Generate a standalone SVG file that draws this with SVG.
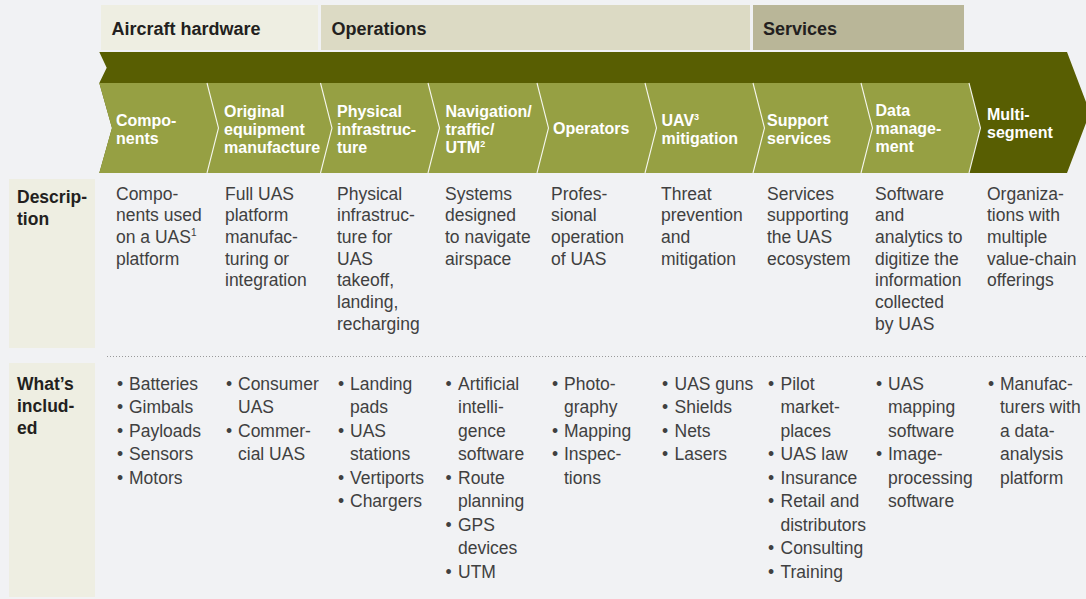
<svg xmlns="http://www.w3.org/2000/svg" width="1086" height="599" viewBox="0 0 1086 599">
<style>
text{font-family:"Liberation Sans",Arial,Helvetica,sans-serif}
.cat{font-weight:bold;font-size:18px;fill:#231f20}
.chev{font-weight:bold;font-size:16px;fill:#ffffff}
.lab{font-weight:bold;font-size:17.5px;fill:#231f20}
.txt{font-size:17.5px;fill:#404040}
.sup{font-size:10px}
.div{fill:none;stroke:#ffffff;stroke-width:1.1;stroke-opacity:0.9}
</style>
<rect x="0" y="0" width="1086" height="599" fill="#f1f2f4"/>

<g id="categories">
  <rect x="101" y="5" width="217" height="45" fill="#eeeee2"/>
  <text class="cat" x="111.5" y="35">Aircraft hardware</text>
  <rect x="321" y="5" width="429" height="45" fill="#dcdac4"/>
  <text class="cat" x="331.5" y="35">Operations</text>
  <rect x="753" y="5" width="211" height="45" fill="#b9b698"/>
  <text class="cat" x="763" y="35">Services</text>
</g>

<g id="value-chain-band">
  <polygon points="99.3,52 1067,52 1090,112.5 1067,173 99.3,173 112,128 99.3,83 106.7,67.7" fill="#585e02"/>
  <polygon points="99.3,83 969,83 980.5,128 969,173 99.3,173 112,128" fill="#96a043"/>
</g>

<g id="connectors">
  <polyline class="div" points="207,83 218.5,128 207,173"/>
  <polyline class="div" points="320.5,83 332,128 320.5,173"/>
  <polyline class="div" points="428,83 439.5,128 428,173"/>
  <polyline class="div" points="537,83 548.5,128 537,173"/>
  <polyline class="div" points="645,83 656.5,128 645,173"/>
  <polyline class="div" points="753,83 764.5,128 753,173"/>
  <polyline class="div" points="861,83 872.5,128 861,173"/>
  <polyline class="div" points="969,83 980.5,128 969,173"/>
</g>

<g id="row-labels">
  <rect x="9" y="179" width="86" height="169" fill="#eeeee2"/>
  <text class="lab"><tspan x="17" y="203">Descrip-</tspan><tspan x="17" y="225">tion</tspan></text>
  <rect x="9" y="363" width="86" height="234" fill="#eeeee2"/>
  <text class="lab"><tspan x="17" y="389.5">What’s</tspan><tspan x="17" y="411.5">includ-</tspan><tspan x="17" y="433.5">ed</tspan></text>
  <line x1="107" y1="356.5" x2="1086" y2="356.5" stroke="#9a9a9a" stroke-width="1" stroke-dasharray="1,2"/>
</g>

<g id="col-components">
  <text class="chev"><tspan x="116" y="126">Compo-</tspan><tspan x="116" y="144">nents</tspan></text>
  <text class="txt"><tspan x="116" y="199.5">Compo-</tspan><tspan x="116" y="221.2">nents used</tspan><tspan x="116" y="242.9">on a UAS</tspan><tspan class="sup" dy="-7">1</tspan><tspan x="116" y="264.6">platform</tspan></text>
  <text class="txt"><tspan x="117" y="389.5">•</tspan><tspan x="129" y="389.5">Batteries</tspan><tspan x="117" y="413">•</tspan><tspan x="129" y="413">Gimbals</tspan><tspan x="117" y="436.5">•</tspan><tspan x="129" y="436.5">Payloads</tspan><tspan x="117" y="460">•</tspan><tspan x="129" y="460">Sensors</tspan><tspan x="117" y="483.5">•</tspan><tspan x="129" y="483.5">Motors</tspan></text>
</g>

<g id="col-oem">
  <text class="chev"><tspan x="224" y="117">Original</tspan><tspan x="224" y="135">equipment</tspan><tspan x="224" y="153">manufacture</tspan></text>
  <text class="txt"><tspan x="225" y="199.5">Full UAS</tspan><tspan x="225" y="221.2">platform</tspan><tspan x="225" y="242.9">manufac-</tspan><tspan x="225" y="264.6">turing or</tspan><tspan x="225" y="286.3">integration</tspan></text>
  <text class="txt"><tspan x="226" y="389.5">•</tspan><tspan x="238" y="389.5">Consumer</tspan><tspan x="238" y="413">UAS</tspan><tspan x="226" y="436.5">•</tspan><tspan x="238" y="436.5">Commer-</tspan><tspan x="238" y="460">cial UAS</tspan></text>
</g>

<g id="col-infrastructure">
  <text class="chev"><tspan x="337" y="117">Physical</tspan><tspan x="337" y="135">infrastruc-</tspan><tspan x="337" y="153">ture</tspan></text>
  <text class="txt"><tspan x="337" y="199.5">Physical</tspan><tspan x="337" y="221.2">infrastruc-</tspan><tspan x="337" y="242.9">ture for</tspan><tspan x="337" y="264.6">UAS</tspan><tspan x="337" y="286.3">takeoff,</tspan><tspan x="337" y="308">landing,</tspan><tspan x="337" y="329.7">recharging</tspan></text>
  <text class="txt"><tspan x="338" y="389.5">•</tspan><tspan x="350" y="389.5">Landing</tspan><tspan x="350" y="413">pads</tspan><tspan x="338" y="436.5">•</tspan><tspan x="350" y="436.5">UAS</tspan><tspan x="350" y="460">stations</tspan><tspan x="338" y="483.5">•</tspan><tspan x="350" y="483.5">Vertiports</tspan><tspan x="338" y="507">•</tspan><tspan x="350" y="507">Chargers</tspan></text>
</g>

<g id="col-navigation">
  <text class="chev"><tspan x="445.5" y="117">Navigation/</tspan><tspan x="445.5" y="135">traffic/</tspan><tspan x="445.5" y="153">UTM</tspan><tspan class="sup" dy="-6.5" style="font-size:9px">2</tspan></text>
  <text class="txt"><tspan x="445" y="199.5">Systems</tspan><tspan x="445" y="221.2">designed</tspan><tspan x="445" y="242.9">to navigate</tspan><tspan x="445" y="264.6">airspace</tspan></text>
  <text class="txt"><tspan x="445.5" y="389.5">•</tspan><tspan x="458" y="389.5">Artificial</tspan><tspan x="458" y="413">intelli-</tspan><tspan x="458" y="436.5">gence</tspan><tspan x="458" y="460">software</tspan><tspan x="445.5" y="483.5">•</tspan><tspan x="458" y="483.5">Route</tspan><tspan x="458" y="507">planning</tspan><tspan x="445.5" y="530.5">•</tspan><tspan x="458" y="530.5">GPS</tspan><tspan x="458" y="554">devices</tspan><tspan x="445.5" y="577.5">•</tspan><tspan x="458" y="577.5">UTM</tspan></text>
</g>

<g id="col-operators">
  <text class="chev"><tspan x="553" y="133.5">Operators</tspan></text>
  <text class="txt"><tspan x="551" y="199.5">Profes-</tspan><tspan x="551" y="221.2">sional</tspan><tspan x="551" y="242.9">operation</tspan><tspan x="551" y="264.6">of UAS</tspan></text>
  <text class="txt"><tspan x="552" y="389.5">•</tspan><tspan x="564" y="389.5">Photo-</tspan><tspan x="564" y="413">graphy</tspan><tspan x="552" y="436.5">•</tspan><tspan x="564" y="436.5">Mapping</tspan><tspan x="552" y="460">•</tspan><tspan x="564" y="460">Inspec-</tspan><tspan x="564" y="483.5">tions</tspan></text>
</g>

<g id="col-mitigation">
  <text class="chev"><tspan x="661.5" y="126">UAV</tspan><tspan class="sup" dy="-6.5" style="font-size:9px">3</tspan><tspan x="661.5" y="144">mitigation</tspan></text>
  <text class="txt"><tspan x="661" y="199.5">Threat</tspan><tspan x="661" y="221.2">prevention</tspan><tspan x="661" y="242.9">and</tspan><tspan x="661" y="264.6">mitigation</tspan></text>
  <text class="txt"><tspan x="662" y="389.5">•</tspan><tspan x="674.5" y="389.5">UAS guns</tspan><tspan x="662" y="413">•</tspan><tspan x="674.5" y="413">Shields</tspan><tspan x="662" y="436.5">•</tspan><tspan x="674.5" y="436.5">Nets</tspan><tspan x="662" y="460">•</tspan><tspan x="674.5" y="460">Lasers</tspan></text>
</g>

<g id="col-support">
  <text class="chev"><tspan x="767" y="126">Support</tspan><tspan x="767" y="144">services</tspan></text>
  <text class="txt"><tspan x="767" y="199.5">Services</tspan><tspan x="767" y="221.2">supporting</tspan><tspan x="767" y="242.9">the UAS</tspan><tspan x="767" y="264.6">ecosystem</tspan></text>
  <text class="txt"><tspan x="768" y="389.5">•</tspan><tspan x="780.5" y="389.5">Pilot</tspan><tspan x="780.5" y="413">market-</tspan><tspan x="780.5" y="436.5">places</tspan><tspan x="768" y="460">•</tspan><tspan x="780.5" y="460">UAS law</tspan><tspan x="768" y="483.5">•</tspan><tspan x="780.5" y="483.5">Insurance</tspan><tspan x="768" y="507">•</tspan><tspan x="780.5" y="507">Retail and</tspan><tspan x="780.5" y="530.5">distributors</tspan><tspan x="768" y="554">•</tspan><tspan x="780.5" y="554">Consulting</tspan><tspan x="768" y="577.5">•</tspan><tspan x="780.5" y="577.5">Training</tspan></text>
</g>

<g id="col-data">
  <text class="chev"><tspan x="875.5" y="116">Data</tspan><tspan x="875.5" y="134">manage-</tspan><tspan x="875.5" y="152">ment</tspan></text>
  <text class="txt"><tspan x="875" y="199.5">Software</tspan><tspan x="875" y="221.2">and</tspan><tspan x="875" y="242.9">analytics to</tspan><tspan x="875" y="264.6">digitize the</tspan><tspan x="875" y="286.3">information</tspan><tspan x="875" y="308">collected</tspan><tspan x="875" y="329.7">by UAS</tspan></text>
  <text class="txt"><tspan x="876" y="389.5">•</tspan><tspan x="888" y="389.5">UAS</tspan><tspan x="888" y="413">mapping</tspan><tspan x="888" y="436.5">software</tspan><tspan x="876" y="460">•</tspan><tspan x="888" y="460">Image-</tspan><tspan x="888" y="483.5">processing</tspan><tspan x="888" y="507">software</tspan></text>
</g>

<g id="col-multisegment">
  <text class="chev"><tspan x="987" y="120">Multi-</tspan><tspan x="987" y="138">segment</tspan></text>
  <text class="txt"><tspan x="987" y="199.5">Organiza-</tspan><tspan x="987" y="221.2">tions with</tspan><tspan x="987" y="242.9">multiple</tspan><tspan x="987" y="264.6">value-chain</tspan><tspan x="987" y="286.3">offerings</tspan></text>
  <text class="txt"><tspan x="988" y="389.5">•</tspan><tspan x="1000" y="389.5">Manufac-</tspan><tspan x="1000" y="413">turers with</tspan><tspan x="1000" y="436.5">a data-</tspan><tspan x="1000" y="460">analysis</tspan><tspan x="1000" y="483.5">platform</tspan></text>
</g>
</svg>
